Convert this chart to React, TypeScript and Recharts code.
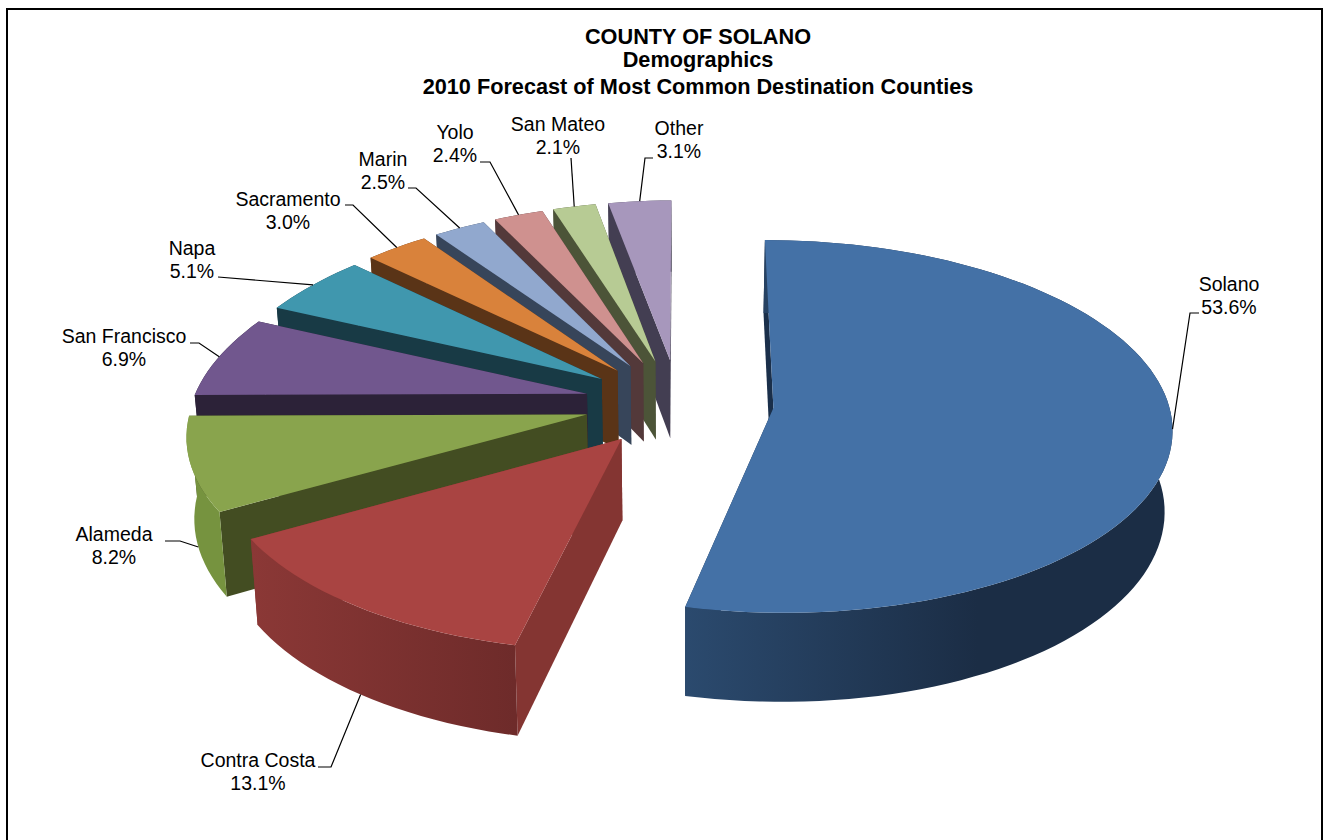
import React from "react"
import { PieChart, Pie } from "recharts"

const titleLines = [
  "COUNTY OF SOLANO",
  "Demographics",
  "2010 Forecast of Most Common Destination Counties",
]
const counties = ["Solano", "Contra Costa", "Alameda", "San Francisco", "Napa", "Sacramento", "Marin", "Yolo", "San Mateo", "Other"]
const shares = [53.6, 13.1, 8.2, 6.9, 5.1, 3.0, 2.5, 2.4, 2.1, 3.1]
const faceColors = ["#4471A6", "#A94442", "#89A44D", "#71578E", "#4097AE", "#D9823B", "#91A8CE", "#CF918F", "#B7CB94", "#A797BC"]
const edgeColors = ["#1A2F4A", "#843532", "#434D22", "#2C2238", "#183A45", "#5A3417", "#37455A", "#53393A", "#4C5438", "#433E52"]
const rimLeftColors = ["#2B4A6E", "#8B3836", "#76933F", "#2C2238", "#183A45", "#5A3417", "#37455A", "#53393A", "#4C5438", "#433E52"]
const rimRightColors = ["#1B2D45", "#6E2B2A", "#76933F", "#2C2238", "#183A45", "#5A3417", "#37455A", "#53393A", "#4C5438", "#433E52"]

// text centre, first baseline, leader bend points; fromBase hangs the leader off the lower rim
const labelSpots: Record<string, { x: number; y: number; bends: number[][]; fromBase?: boolean }> = {
  Solano: { x: 1229, y: 291, bends: [[1199, 313], [1190, 313]] },
  "Contra Costa": { x: 258, y: 767, bends: [[318, 767], [331, 767]], fromBase: true },
  Alameda: { x: 114, y: 541, bends: [[165, 541], [180, 541]], fromBase: true },
  "San Francisco": { x: 124, y: 343, bends: [[190, 343], [199, 343]] },
  Napa: { x: 192, y: 255, bends: [[218, 277]] },
  Sacramento: { x: 288, y: 206, bends: [[345, 205], [353, 205]] },
  Marin: { x: 383, y: 166, bends: [[408, 188], [416, 188]] },
  Yolo: { x: 455, y: 139, bends: [[480, 162], [490, 162]] },
  "San Mateo": { x: 558, y: 131, bends: [[571, 158]] },
  Other: { x: 679, y: 135, bends: [[653, 158], [645, 158]] },
}

// reversed so the back slices paint first when the pie runs counter-clockwise from 12 o'clock
const pieData = counties
  .map((name, i) => ({
    name,
    value: shares[i],
    fill: faceColors[i],
    edge: edgeColors[i],
    rimLeft: rimLeftColors[i],
    rimRight: rimRightColors[i],
  }))
  .reverse()

const SQUASH = 0.4646
const EXPLODE = 0.24
const PERSPECTIVE = 0.099
const BACK_LEFT_TAPER = 0.06
const DEPTH = 80
const BASE_SHRINK = 0.016
const RAD = Math.PI / 180
const FONT = "'Liberation Sans', Arial, sans-serif"

type Ctx = { cx: number; cy: number; r: number }

// disc coordinates (1 = radius, +y toward the viewer) to screen, z = 0 top face, 1 base
function project({ cx, cy, r }: Ctx, dx: number, dy: number, z: number) {
  const s = 1 / (1 - PERSPECTIVE * dy)
  const taper = dx < 0 && dy < 0 ? 1 + BACK_LEFT_TAPER * dy : 1
  return {
    x: cx + dx * r * s * taper * (1 - BASE_SHRINK * z),
    y: cy + dy * r * SQUASH * s + z * DEPTH * s,
  }
}

function rimPoint(ctx: Ctx, angle: number, mid: number, z: number, radius = 1) {
  const dx = radius * Math.cos(angle * RAD) + EXPLODE * Math.cos(mid * RAD)
  const dy = -radius * Math.sin(angle * RAD) - EXPLODE * Math.sin(mid * RAD)
  return project(ctx, dx, dy, z)
}

const toPath = (pts: { x: number; y: number }[]) =>
  "M" + pts.map((p) => `${p.x.toFixed(1)},${p.y.toFixed(1)}`).join("L") + "Z"

function ExplodedSlice(props: any) {
  const { cx, cy, outerRadius, startAngle, endAngle, fill, payload, name } = props
  const edge = props.edge ?? payload?.edge
  const rimLeft = props.rimLeft ?? payload?.rimLeft
  const rimRight = props.rimRight ?? payload?.rimRight
  const ctx = { cx, cy, r: outerRadius }
  const mid = (startAngle + endAngle) / 2
  const steps = Math.max(4, Math.ceil(Math.abs(endAngle - startAngle) / 2))
  const top = []
  const base = []
  for (let i = 0; i <= steps; i++) {
    const a = startAngle + ((endAngle - startAngle) * i) / steps
    top.push(rimPoint(ctx, a, mid, 0))
    base.push(rimPoint(ctx, a, mid, 1))
  }
  const hubTop = rimPoint(ctx, mid, mid, 0, 0)
  const hubBase = rimPoint(ctx, mid, mid, 1, 0)
  const xs = top.map((p) => p.x)
  const gradientId = `rim-${String(name ?? payload?.name).replace(/\s/g, "")}`
  const flatFrom = name === "Solano" || payload?.name === "Solano" ? "60%" : "100%"

  return (
    <g>
      <defs>
        <linearGradient id={gradientId} gradientUnits="userSpaceOnUse" x1={Math.min(...xs)} x2={Math.max(...xs)} y1={0} y2={0}>
          <stop offset="0%" stopColor={rimLeft} />
          <stop offset={flatFrom} stopColor={rimRight} />
        </linearGradient>
      </defs>
      <path d={toPath([hubTop, top[0], base[0], hubBase])} fill={edge} />
      <path d={toPath([hubTop, top[steps], base[steps], hubBase])} fill={edge} />
      <path d={toPath([...top, ...[...base].reverse()])} fill={`url(#${gradientId})`} />
      <path d={toPath([hubTop, ...top])} fill={fill} />
    </g>
  )
}

function CountyLabel(props: any) {
  const { cx, cy, outerRadius, midAngle, name, value } = props
  const spot = labelSpots[name]
  if (!spot) return null
  const tip = rimPoint({ cx, cy, r: outerRadius }, midAngle, midAngle, spot.fromBase ? 1 : 0)
  const points = [...spot.bends.map((b) => b.join(",")), `${tip.x},${tip.y}`].join(" ")
  return (
    <g>
      <polyline points={points} fill="none" stroke="#000" strokeWidth={1.2} />
      <text x={spot.x} y={spot.y} textAnchor="middle" fontSize={19.5} fontFamily={FONT} fill="#000">
        {name}
      </text>
      <text x={spot.x} y={spot.y + 23} textAnchor="middle" fontSize={19.5} fontFamily={FONT} fill="#000">
        {`${Number(value).toFixed(1)}%`}
      </text>
    </g>
  )
}

export default function App() {
  return (
    <div style={{ position: "absolute", left: 0, top: 0, width: 1323, height: 840, background: "#fff", overflow: "hidden" }}>
      {/* frame runs off the bottom of the page */}
      <div style={{ position: "absolute", left: 6, top: 8, width: 1313, height: 840, border: "2px solid #000", borderBottom: "none" }} />
      <div style={{ position: "absolute", left: 0, top: 0 }}>
        <PieChart width={1323} height={840} margin={{ top: 0, right: 0, bottom: 0, left: 0 }}>
          <Pie
            data={pieData}
            dataKey="value"
            nameKey="name"
            cx={679}
            cy={403}
            innerRadius={0}
            outerRadius={395}
            startAngle={90}
            endAngle={450}
            stroke="none"
            rootTabIndex={-1}
            isAnimationActive={false}
            shape={ExplodedSlice}
            label={CountyLabel}
            labelLine={false}
          />
          {titleLines.map((line, i) => (
            <text
              key={line}
              x={698}
              y={[44, 67, 94][i]}
              textAnchor="middle"
              fontSize={21.7}
              fontWeight="bold"
              fontFamily={FONT}
              fill="#000"
            >
              {line}
            </text>
          ))}
        </PieChart>
      </div>
    </div>
  )
}
